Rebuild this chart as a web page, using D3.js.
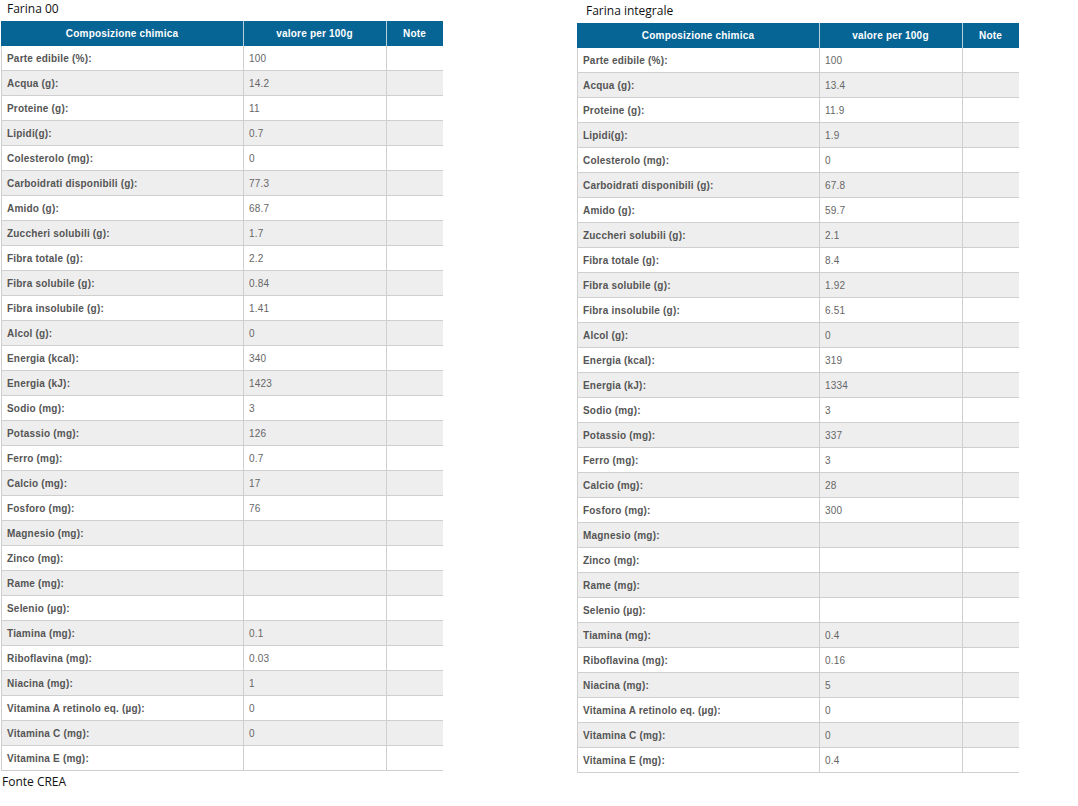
<!DOCTYPE html>
<html>
<head>
<meta charset="utf-8">
<script src="https://cdn.jsdelivr.net/npm/d3@7"></script>
<style>
  body { margin: 0; background: #fff; }
  .title { font-family: "Open Sans", "Noto Sans", sans-serif; font-size: 12px; fill: #111; }
  .head { font-family: "Liberation Sans", Arial, sans-serif; font-size: 10px; font-weight: bold; fill: #fff; letter-spacing: 0.2px; }
  .lbl { font-family: "Liberation Sans", Arial, sans-serif; font-size: 10px; font-weight: bold; fill: #555; letter-spacing: 0.2px; }
  .val { font-family: "Liberation Sans", Arial, sans-serif; font-size: 10px; fill: #666; letter-spacing: 0.2px; }
</style>
</head>
<body>
<div id="chart"></div>
<script>
// table data
let headers = ["Composizione chimica", "valore per 100g", "Note"];

let labels = ["Parte edibile (%):", "Acqua (g):", "Proteine (g):", "Lipidi(g):", "Colesterolo (mg):",
  "Carboidrati disponibili (g):", "Amido (g):", "Zuccheri solubili (g):", "Fibra totale (g):",
  "Fibra solubile (g):", "Fibra insolubile (g):", "Alcol (g):", "Energia (kcal):", "Energia (kJ):",
  "Sodio (mg):", "Potassio (mg):", "Ferro (mg):", "Calcio (mg):", "Fosforo (mg):", "Magnesio (mg):",
  "Zinco (mg):", "Rame (mg):", "Selenio (µg):", "Tiamina (mg):", "Riboflavina (mg):", "Niacina (mg):",
  "Vitamina A retinolo eq. (µg):", "Vitamina C (mg):", "Vitamina E (mg):"];

let farina00 = ["100", "14.2", "11", "0.7", "0", "77.3", "68.7", "1.7", "2.2", "0.84", "1.41", "0",
  "340", "1423", "3", "126", "0.7", "17", "76", "", "", "", "", "0.1", "0.03", "1", "0", "0", ""];

let farinaIntegrale = ["100", "13.4", "11.9", "1.9", "0", "67.8", "59.7", "2.1", "8.4", "1.92", "6.51", "0",
  "319", "1334", "3", "337", "3", "28", "300", "", "", "", "", "0.4", "0.16", "5", "0", "0", "0.4"];

let width = 1078, height = 806;

let svg = d3.select("#chart").append("svg")
  .attr("width", width)
  .attr("height", height);

function drawTable(cfg) {
  let g = svg.append("g").attr("transform", "translate(" + cfg.x + "," + cfg.y + ")");
  let colEdges = [0, cfg.c1, cfg.c1 + 143, cfg.c1 + 200];
  let rowH = 25;

  let y = d3.scaleBand()
    .domain(d3.range(labels.length))
    .range([rowH, rowH * (labels.length + 1)]);

  // header
  g.append("rect").attr("x", 0).attr("y", 0)
    .attr("width", colEdges[3]).attr("height", rowH)
    .attr("fill", "#066595");
  g.selectAll(".hsep").data([1, 2]).enter().append("line")
    .attr("x1", d => colEdges[d] + 0.5).attr("x2", d => colEdges[d] + 0.5)
    .attr("y1", 0).attr("y2", rowH)
    .attr("stroke", "#b9cfdc");
  g.selectAll(".head").data(headers).enter().append("text")
    .attr("class", "head")
    .attr("x", (d, i) => (colEdges[i] + colEdges[i + 1]) / 2)
    .attr("y", rowH / 2 + 3.5)
    .attr("text-anchor", "middle")
    .text(d => d);

  // rows
  let rows = g.selectAll(".row").data(labels).enter().append("g")
    .attr("transform", (d, i) => "translate(0," + y(i) + ")");
  rows.append("rect")
    .attr("width", colEdges[3]).attr("height", y.bandwidth())
    .attr("fill", (d, i) => i % 2 ? "#eeeeee" : "#ffffff");
  rows.append("line")
    .attr("x1", 0).attr("x2", colEdges[3])
    .attr("y1", y.bandwidth() - 0.5).attr("y2", y.bandwidth() - 0.5)
    .attr("stroke", "#cfcfcf");
  rows.append("text").attr("class", "lbl")
    .attr("x", 6).attr("y", y.bandwidth() / 2 + 3.5)
    .text(d => d);
  rows.append("text").attr("class", "val")
    .attr("x", colEdges[1] + 6).attr("y", y.bandwidth() / 2 + 3.5)
    .text((d, i) => cfg.values[i]);

  // vertical borders
  g.selectAll(".vsep").data([0, 1, 2]).enter().append("line")
    .attr("x1", d => colEdges[d] + 0.5).attr("x2", d => colEdges[d] + 0.5)
    .attr("y1", rowH).attr("y2", y.range()[1])
    .attr("stroke", "#cfcfcf");

  svg.append("text").attr("class", "title")
    .attr("x", cfg.tx).attr("y", cfg.ty)
    .text(cfg.title);
}

drawTable({ x: 1, y: 21, c1: 242, values: farina00, title: "Farina 00", tx: 7, ty: 13 });
drawTable({ x: 577, y: 23, c1: 242, values: farinaIntegrale, title: "Farina integrale", tx: 586, ty: 15 });

svg.append("text").attr("class", "title")
  .attr("x", 2).attr("y", 786)
  .text("Fonte CREA");
</script>
</body>
</html>
